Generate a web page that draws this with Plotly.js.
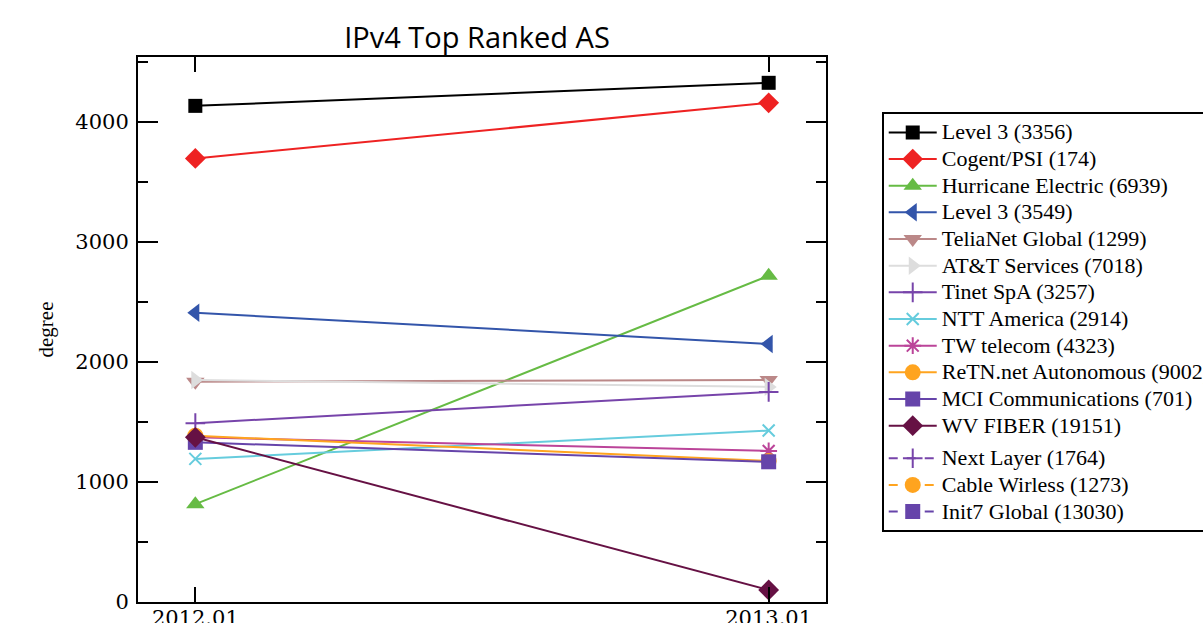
<!DOCTYPE html>
<html>
<head>
<meta charset="utf-8">
<script src="https://cdn.plot.ly/plotly-3.0.1.min.js"></script>
<style>html,body{margin:0;padding:0;background:#fff;}#chart{width:1203px;height:623px;}</style>
</head>
<body>
<div id="chart"></div>
<script>
const periods = ["2012.01", "2013.01"];
const names = ["Level 3 (3356)", "Cogent/PSI (174)", "Hurricane Electric (6939)", "Level 3 (3549)",
  "TeliaNet Global (1299)", "AT&T Services (7018)", "Tinet SpA (3257)", "NTT America (2914)",
  "TW telecom (4323)", "ReTN.net Autonomous (9002)", "MCI Communications (701)", "WV FIBER (19151)",
  "Next Layer (1764)", "Cable Wirless (1273)", "Init7 Global (13030)"];
const level3_3356 = [4133, 4325];
const cogent = [3695, 4158];
const hurricane = [815, 2717];
const level3_3549 = [2410, 2150];
const telianet = [1835, 1850];
const att = [1850, 1792];
const tinet = [1490, 1750];
const ntt = [1192, 1428];
const twtelecom = [1372, 1258];
const retn = [1385, 1175];
const mci = [1330, 1168];
const wvfiber = [1372, 100];
const nextlayer = [null, null];
const cablewirless = [null, null];
const init7 = [null, null];
const seriesValues = [level3_3356, cogent, hurricane, level3_3549, telianet, att, tinet, ntt,
  twtelecom, retn, mci, wvfiber, nextlayer, cablewirless, init7];

const colors = ["#000000", "#ee2222", "#66bb44", "#3355aa", "#bb8888", "#dddddd", "#7744aa", "#66ccdd",
  "#bb4499", "#ffa41f", "#6644aa", "#661144", "#7744aa", "#ffa41f", "#6644aa"];
const symbols = ["square", "diamond", "triangle-up", "triangle-left", "triangle-down", "triangle-right",
  "cross-thin-open", "x-thin-open", "asterisk-open", "circle", "square", "diamond",
  "cross-thin-open", "circle", "square"];
const sizes = [14, 16, 16, 16, 16, 16, 14, 12, 14, 16, 15, 16, 14, 16, 15];

const traces = seriesValues.map((vals, i) => ({
  x: periods, y: vals,
  name: "<span style='font-size:22px'>" + names[i] + "</span>",
  type: "scatter", mode: "lines+markers",
  legendgroup: i < 12 ? "a" : "b",
  line: {color: colors[i], width: 2, dash: i < 12 ? "solid" : "dash"},
  marker: {color: colors[i], symbol: symbols[i], size: sizes[i],
    line: {color: colors[i], width: symbols[i].indexOf("open") >= 0 ? 2 : 0}}
}));

const tickFont = {family: "DejaVu Serif, serif", size: 21, color: "#000"};

const layout = {
  width: 1203, height: 623,
  margin: {l: 138, r: 377, t: 57, b: 21, autoexpand: false},
  paper_bgcolor: "#fff", plot_bgcolor: "#fff",
  title: {text: "IPv4 Top Ranked AS", x: 0.3965, xanchor: "center", y: 0.94, yanchor: "middle",
    font: {family: "Open Sans, Liberation Sans, sans-serif", size: 29, color: "#000"}},
  xaxis: {type: "category", range: [-0.1, 1.1], showgrid: false, zeroline: false,
    showline: true, linecolor: "#000", linewidth: 2, mirror: "ticks",
    ticks: "inside", ticklen: 15, tickwidth: 2, tickcolor: "#000",
    ticklabelstandoff: -4, tickfont: tickFont},
  yaxis: {range: [0, 4540], showgrid: false, zeroline: false,
    showline: true, linecolor: "#000", linewidth: 2, mirror: "ticks",
    ticks: "inside", ticklen: 20, tickwidth: 2, tickcolor: "#000", dtick: 1000,
    minor: {dtick: 500, ticks: "inside", ticklen: 10, tickwidth: 2, tickcolor: "#000", showgrid: false},
    ticklabelstandoff: 3, tickfont: tickFont,
    title: {text: "degree", standoff: 16, font: {family: "Liberation Serif, serif", size: 21, color: "#000"}}},
  showlegend: true,
  legend: {x: 1.081, xanchor: "left", y: 0.899, yanchor: "top",
    bordercolor: "#000", borderwidth: 2, bgcolor: "#fff",
    traceorder: "grouped", tracegroupgap: 6, itemwidth: 48,
    font: {family: "Liberation Serif, serif", size: 18.2, color: "#000"}}
};

Plotly.newPlot("chart", traces, layout, {displayModeBar: false, staticPlot: true});
</script>
</body>
</html>
